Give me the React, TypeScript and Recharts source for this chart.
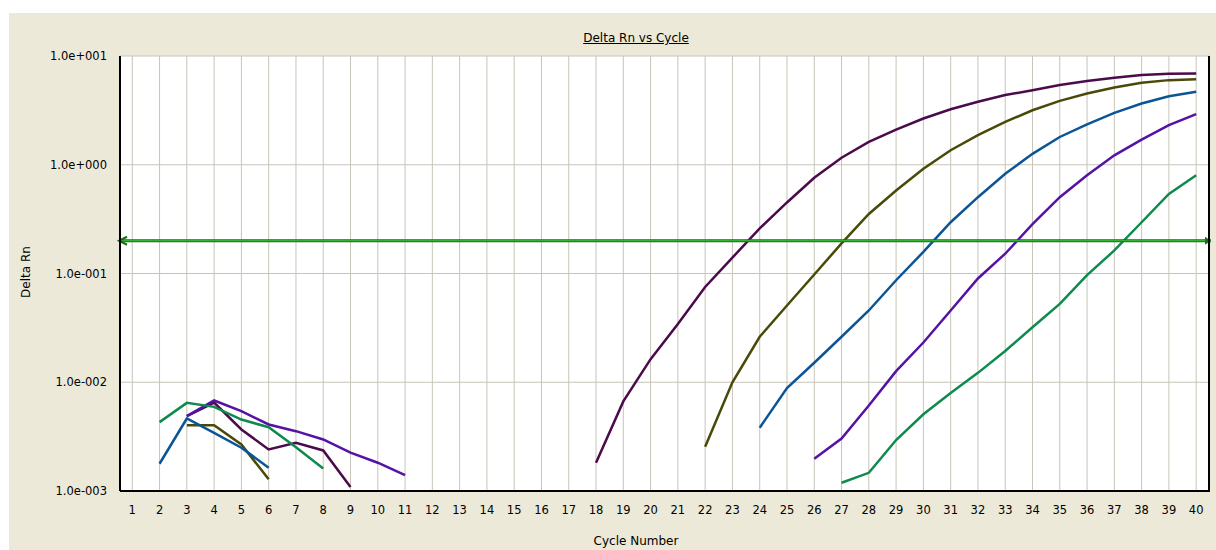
import React from "react"
import { LineChart, Line, XAxis, YAxis, CartesianGrid, ReferenceLine } from "recharts"

// cycle numbers on the x axis
const cycles = [
  1, 2, 3, 4, 5, 6, 7, 8, 9, 10, 11, 12, 13, 14, 15, 16, 17, 18, 19, 20,
  21, 22, 23, 24, 25, 26, 27, 28, 29, 30, 31, 32, 33, 34, 35, 36, 37, 38, 39, 40,
]

// delta Rn per cycle, null where the value is not plotted (<= 0 on a log axis)
const plumWell = [
  null, null, 0.00488, 0.0065, 0.00368, 0.00241, 0.00277, 0.00236, 0.00109, null,
  null, null, null, null, null, null, null, 0.00182, 0.00667, 0.0163,
  0.0343, 0.0752, 0.14, 0.26, 0.45, 0.76, 1.16, 1.62, 2.1, 2.66,
  3.24, 3.8, 4.37, 4.85, 5.4, 5.9, 6.3, 6.68, 6.87, 6.92,
]
const oliveWell = [
  null, null, 0.00403, 0.00403, 0.00268, 0.00128, null, null, null, null,
  null, null, null, null, null, null, null, null, null, null,
  null, 0.00255, 0.01, 0.0262, 0.0508, 0.098, 0.189, 0.353, 0.58, 0.92,
  1.36, 1.87, 2.48, 3.17, 3.87, 4.52, 5.14, 5.68, 6.0, 6.1,
]
const blueWell = [
  null, 0.00178, 0.00464, 0.00343, 0.0025, 0.00164, null, null, null, null,
  null, null, null, null, null, null, null, null, null, null,
  null, null, null, 0.00382, 0.00885, 0.0151, 0.0262, 0.0457, 0.0867, 0.158,
  0.296, 0.503, 0.826, 1.26, 1.8, 2.35, 3.0, 3.66, 4.27, 4.69,
]
const violetWell = [
  null, null, 0.00488, 0.0068, 0.00542, 0.00409, 0.00355, 0.00298, 0.00225, 0.00182,
  0.0014, null, null, null, null, null, null, null, null, null,
  null, null, null, null, null, 0.00198, 0.00304, 0.00611, 0.01265, 0.0232,
  0.0457, 0.09, 0.152, 0.285, 0.503, 0.8, 1.22, 1.7, 2.31, 2.92,
]
const greenWell = [
  null, 0.0043, 0.00646, 0.00594, 0.00454, 0.00386, 0.00253, 0.00161, null, null,
  null, null, null, null, null, null, null, null, null, null,
  null, null, null, null, null, null, 0.00119, 0.00147, 0.00294, 0.00508,
  0.00796, 0.0122, 0.0194, 0.032, 0.0526, 0.0966, 0.163, 0.296, 0.54, 0.8,
]

const yTicks = [0.001, 0.01, 0.1, 1, 10]
const threshold = 0.2

const series = [
  { key: "plum", color: "#4b0a4b" },
  { key: "olive", color: "#4a4a08" },
  { key: "blue", color: "#0b5596" },
  { key: "violet", color: "#5512a5" },
  { key: "green", color: "#0e8a4e" },
]

const data = cycles.map((c, i) => ({
  cycle: c,
  plum: plumWell[i],
  olive: oliveWell[i],
  blue: blueWell[i],
  violet: violetWell[i],
  green: greenWell[i],
}))

const fmtExp = (v: number) => {
  const e = Math.round(Math.log10(v))
  return `1.0e${e < 0 ? "-" : "+"}${String(Math.abs(e)).padStart(3, "0")}`
}

// threshold bar: dark green edges, light green core, arrow at each end
const ThresholdLine = (props: any) => {
  const { x1, y1, x2 } = props
  const l = x1 - 1
  const r = x2 + 2
  const dark = "#1b6b1b"
  return (
    <g>
      <line x1={l} y1={y1} x2={r} y2={y1} stroke={dark} strokeWidth={3} />
      <line x1={l} y1={y1} x2={r} y2={y1} stroke="#3cc83c" strokeWidth={1} />
      <path d={`M${l + 8},${y1 - 4} L${l},${y1} L${l + 8},${y1 + 4}`} fill="none" stroke={dark} strokeWidth={2} />
      <path d={`M${r - 6},${y1 - 4} L${r},${y1} L${r - 6},${y1 + 4} Z`} fill={dark} />
    </g>
  )
}

export default function App() {
  const font = "'DejaVu Sans', Verdana, sans-serif"
  const label = {
    position: "absolute" as const,
    fontSize: 12,
    lineHeight: "14px",
    color: "#000",
    whiteSpace: "nowrap" as const,
  }
  return (
    <div
      style={{
        position: "absolute",
        top: 13,
        left: 9,
        width: 1207,
        height: 537,
        overflow: "hidden",
        background: "#ece9d8",
        fontFamily: font,
      }}
    >
      <div style={{ ...label, left: 627, top: 18, transform: "translateX(-50%)", textDecoration: "underline" }}>
        Delta Rn vs Cycle
      </div>
      <div style={{ ...label, left: 17, top: 259, transform: "translate(-50%, -50%) rotate(-90deg)" }}>
        Delta Rn
      </div>
      <div style={{ ...label, left: 627, top: 521, transform: "translateX(-50%)" }}>Cycle Number</div>
      <LineChart width={1207} height={537} data={data} margin={{ top: 43, right: 7, bottom: 0, left: 0 }}>
        <CartesianGrid stroke="#c8c4b8" fill="#ffffff" />
        <XAxis
          dataKey="cycle"
          type="number"
          domain={[0.55, 40.47]}
          ticks={cycles}
          interval={0}
          height={59}
          tickLine={false}
          tickMargin={9}
          axisLine={{ stroke: "#000", strokeWidth: 2 }}
          tick={{ fill: "#000", fontSize: 11.5 }}
          allowDataOverflow
        />
        <YAxis
          type="number"
          scale="log"
          domain={[0.001, 10]}
          ticks={yTicks}
          width={111}
          tickLine={false}
          tickMargin={7}
          tickFormatter={fmtExp}
          axisLine={{ stroke: "#000", strokeWidth: 2 }}
          tick={{ fill: "#000", fontSize: 11.5 }}
          allowDataOverflow
        />
        {series.map((s) => (
          <Line
            key={s.key}
            dataKey={s.key}
            type="linear"
            stroke={s.color}
            strokeWidth={2.5}
            dot={false}
            activeDot={false}
            isAnimationActive={false}
          />
        ))}
        <ReferenceLine y={threshold} shape={ThresholdLine} ifOverflow="visible" />
      </LineChart>
      {/* right frame of the plot area */}
      <div
        style={{
          position: "absolute",
          left: 1199,
          top: 43,
          width: 2,
          height: 436,
          background: "#000",
          pointerEvents: "none",
        }}
      />
    </div>
  )
}
